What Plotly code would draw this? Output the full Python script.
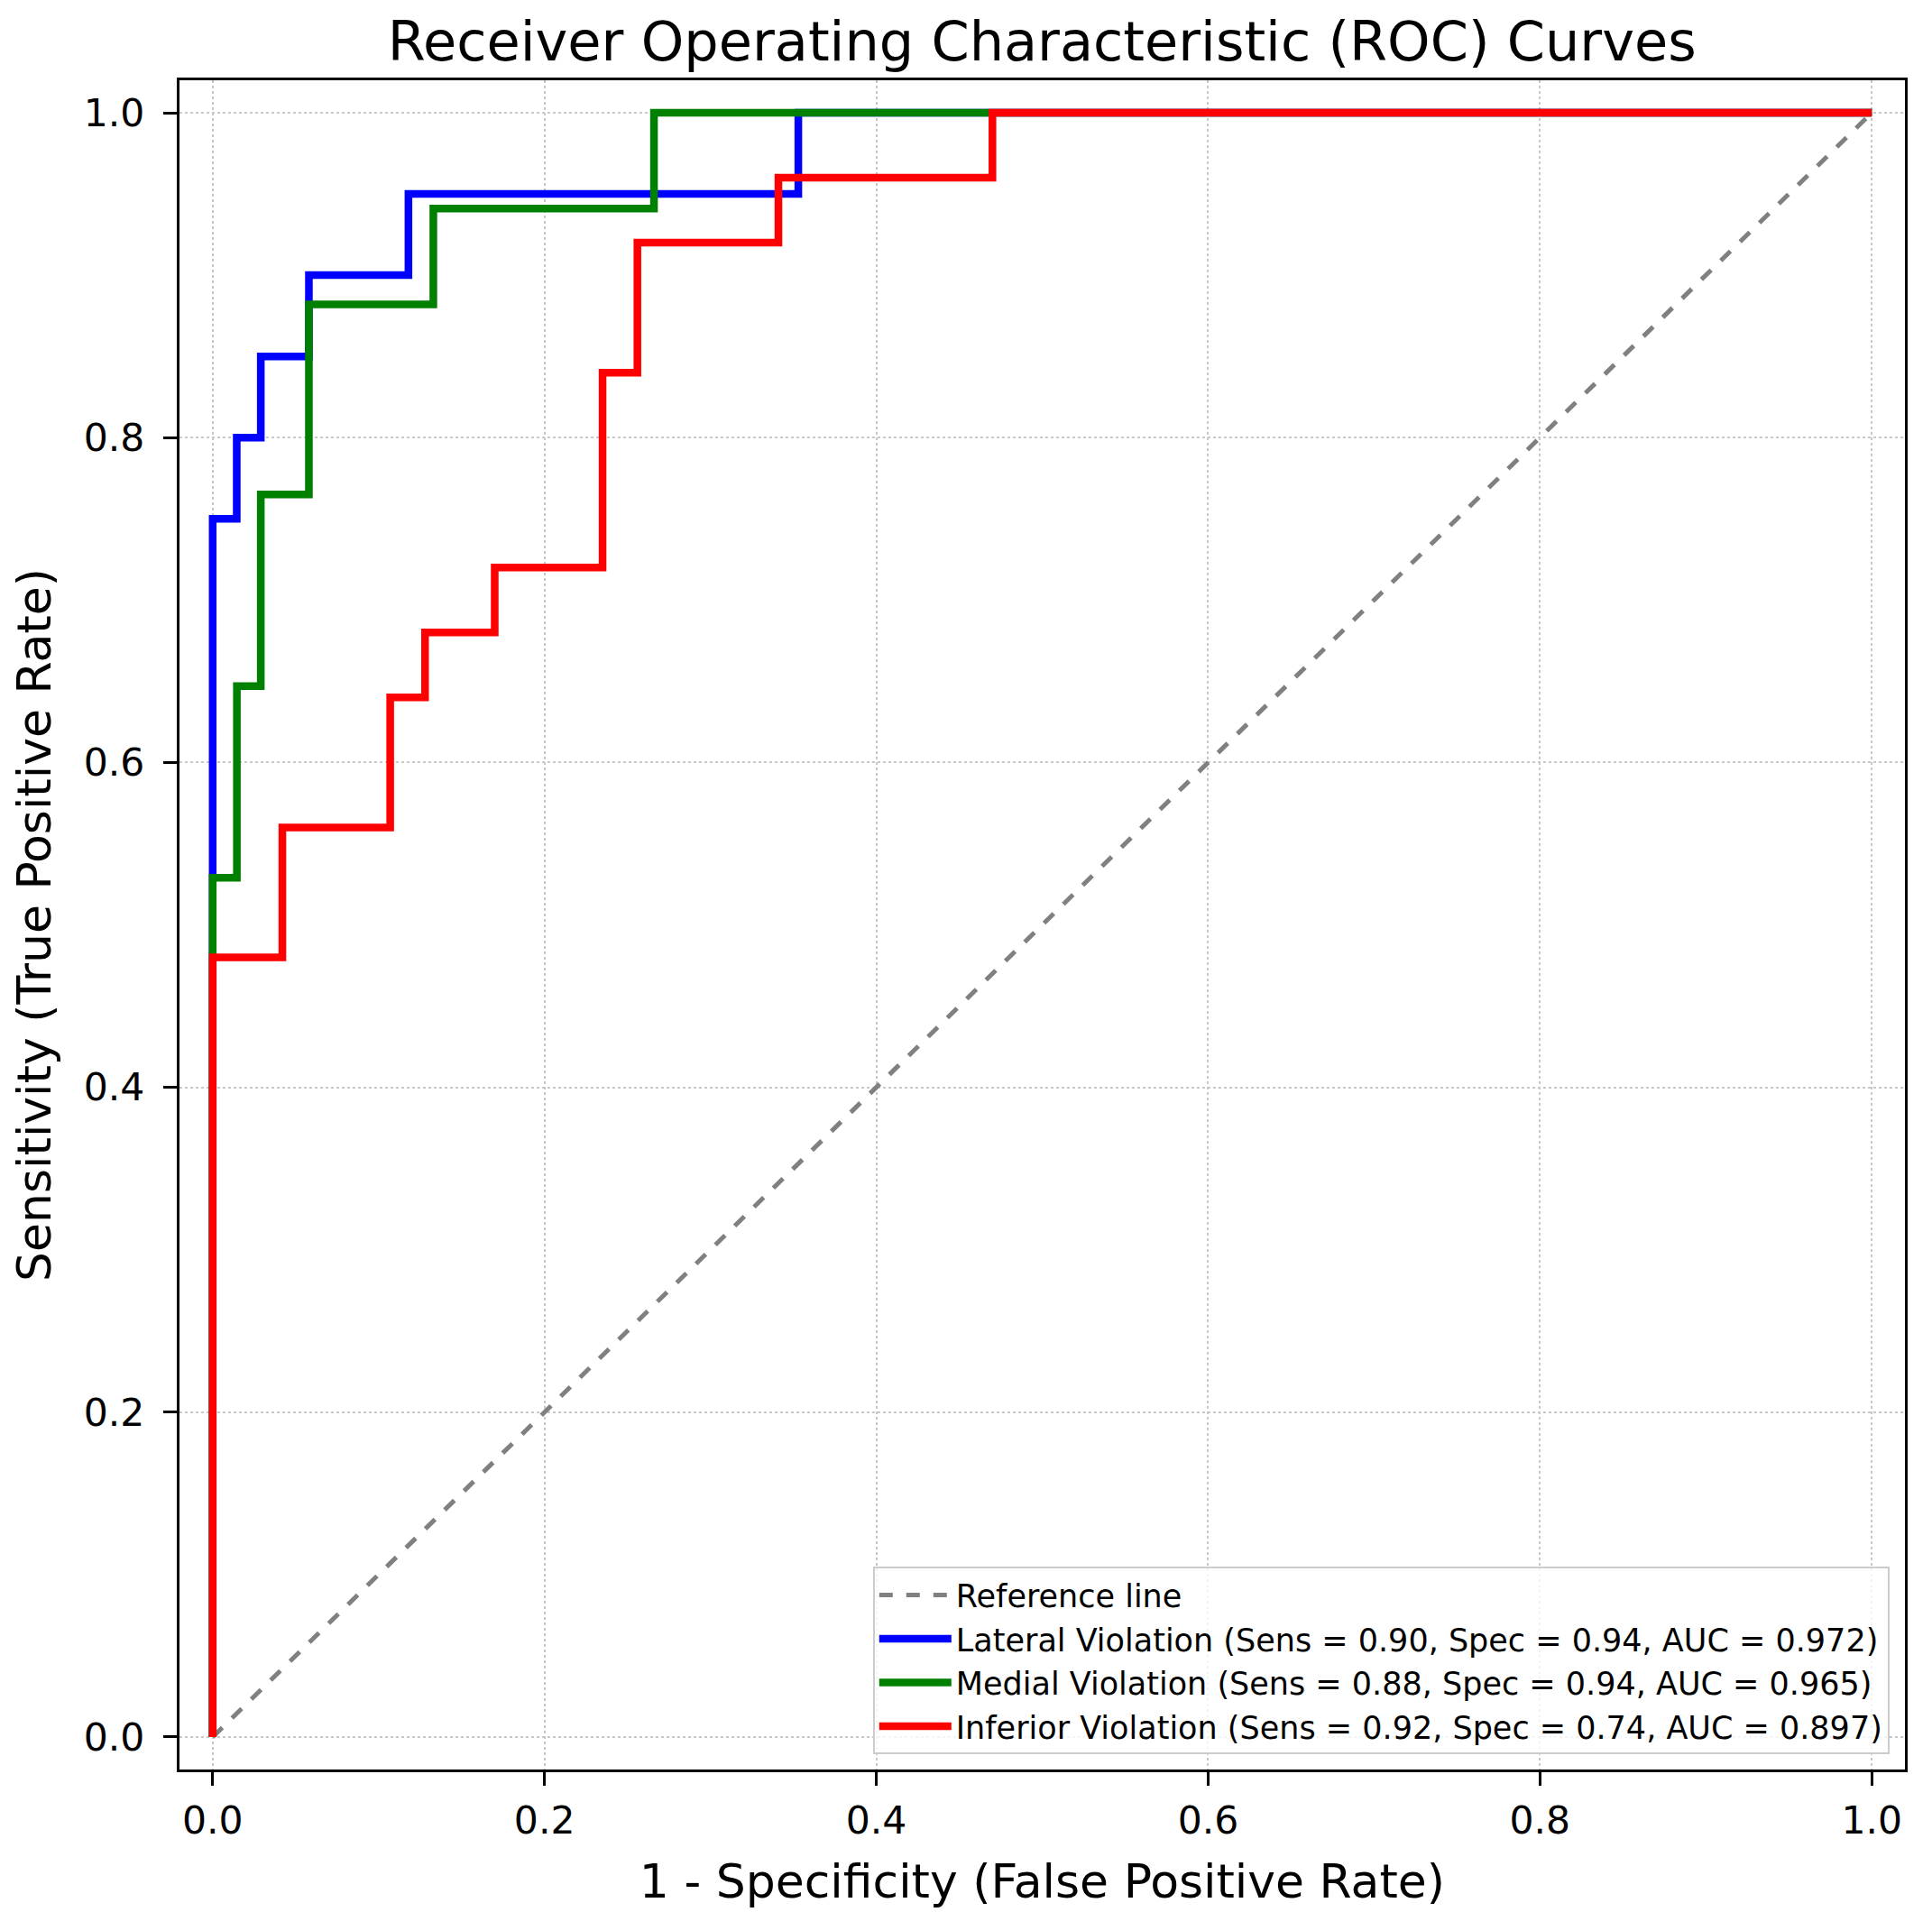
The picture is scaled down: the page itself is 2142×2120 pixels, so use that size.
import plotly.graph_objects as go

# ROC points (fpr, tpr), step corners drawn with line_shape='hv'
ref_x = [0, 1]
ref_y = [0, 1]

lateral_fpr = [0, 0, 0.0145, 0.029, 0.058, 0.118, 0.353, 1.0]
lateral_tpr = [0, 0.75, 0.80, 0.85, 0.90, 0.95, 1.0, 1.0]

medial_fpr = [0, 0, 0.0146, 0.029, 0.058, 0.133, 0.266, 1.0]
medial_tpr = [0, 0.529, 0.647, 0.765, 0.882, 0.941, 1.0, 1.0]

inferior_fpr = [0, 0, 0.042, 0.107, 0.128, 0.170, 0.235, 0.256, 0.341, 0.470, 1.0]
inferior_tpr = [0, 0.48, 0.56, 0.64, 0.68, 0.72, 0.84, 0.92, 0.96, 1.0, 1.0]

names = [
    'Lateral Violation (Sens = 0.90, Spec = 0.94, AUC = 0.972)',
    'Medial Violation (Sens = 0.88, Spec = 0.94, AUC = 0.965)',
    'Inferior Violation (Sens = 0.92, Spec = 0.74, AUC = 0.897)',
]
colors = ['#0000ff', '#008000', '#ff0000']

tick_vals = [0.0, 0.2, 0.4, 0.6, 0.8, 1.0]
tick_text = ['0.0', '0.2', '0.4', '0.6', '0.8', '1.0']

FONT = 'DejaVu Sans'

data = []
data.append(go.Scatter(
    x=ref_x, y=ref_y, mode='lines', name='Reference line',
    line=dict(color='#808080', width=5, dash='dash')
))

curves = [(lateral_fpr, lateral_tpr), (medial_fpr, medial_tpr), (inferior_fpr, inferior_tpr)]
for (fpr, tpr), name, color in zip(curves, names, colors):
    trace = go.Scatter(
        x=fpr, y=tpr, mode='lines', name=name,
        line=dict(color=color, width=8.5, shape='hv')
    )
    data.append(trace)

axis_style = dict(
    range=[-0.02, 1.02],
    tickvals=tick_vals,
    ticktext=tick_text,
    ticks='outside',
    ticklen=15,
    tickwidth=3.4,
    tickcolor='black',
    tickfont=dict(family=FONT, size=42.5, color='black'),
    showline=True,
    linecolor='black',
    linewidth=3.4,
    mirror=True,
    showgrid=True,
    gridcolor='#c8c8c8',
    gridwidth=2,
    griddash='dot',
    zeroline=False,
    automargin=False,
)

layout = go.Layout(
    width=2142,
    height=2120,
    margin=dict(l=191, r=38, t=81, b=166),
    paper_bgcolor='white',
    plot_bgcolor='white',
    font=dict(family=FONT, color='black'),
    title=dict(
        text='Receiver Operating Characteristic (ROC) Curves',
        font=dict(family=FONT, size=60.5, color='black'),
        x=0.5356, xanchor='center',
        y=1 - 38 / 2120, yanchor='middle',
    ),
    xaxis=dict(axis_style, ticklabelstandoff=2,
               title=dict(text='1 - Specificity (False Positive Rate)',
                          font=dict(family=FONT, size=52), standoff=26)),
    yaxis=dict(axis_style, ticklabelstandoff=12,
               title=dict(text='Sensitivity (True Positive Rate)',
                          font=dict(family=FONT, size=52), standoff=24)),
    showlegend=True,
    legend=dict(
        x=0.991, xanchor='right',
        y=0.009, yanchor='bottom',
        bgcolor='rgba(255,255,255,0.8)',
        bordercolor='#cccccc',
        borderwidth=2,
        font=dict(family=FONT, size=35, color='black'),
        itemwidth=80,
        tracegroupgap=4,
    ),
)

fig = go.Figure(data=data, layout=layout)
fig.write_html('out.html')
